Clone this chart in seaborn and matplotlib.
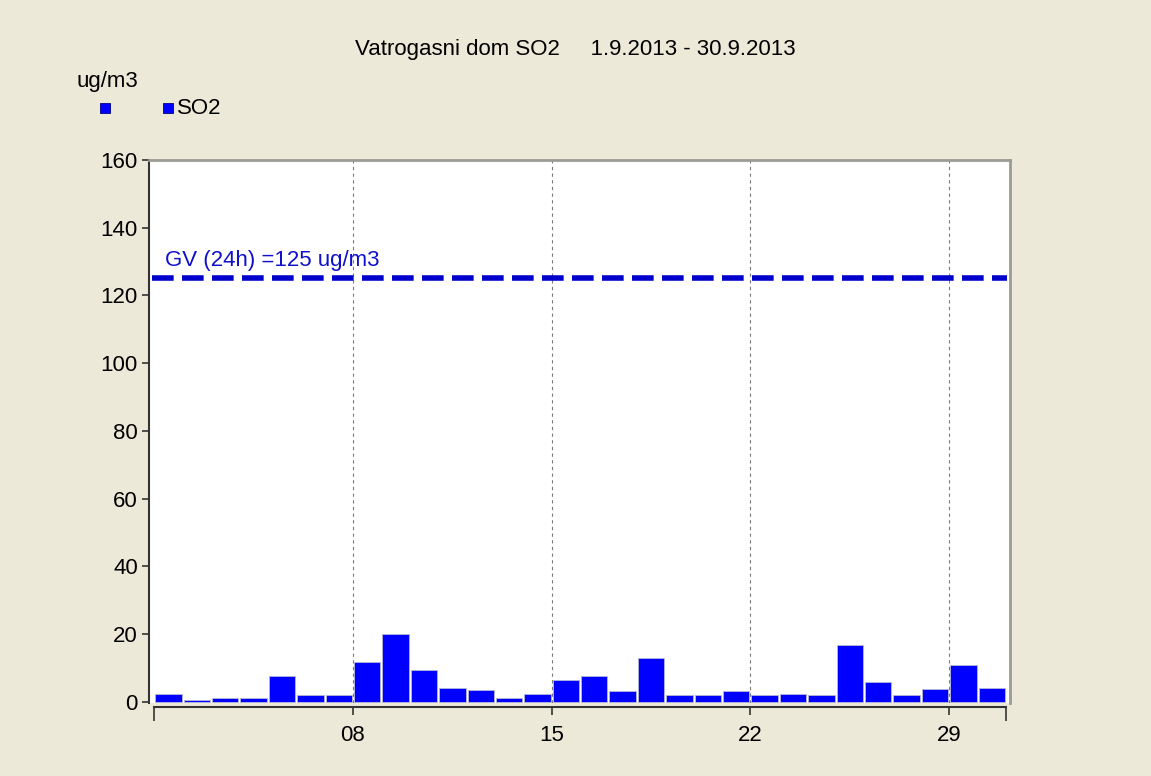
import seaborn as sns
import matplotlib.pyplot as plt
import pandas as pd
from matplotlib.patches import Rectangle

days = [f"{d:02d}" for d in range(1, 31)]
so2 = [2.4, 0.5, 1.0, 1.2, 7.7, 2.0, 2.0, 11.6, 20.1, 9.4,
       4.1, 3.3, 1.2, 2.4, 6.5, 7.7, 3.0, 13.0, 2.0, 2.0,
       3.0, 2.0, 2.4, 2.0, 16.8, 5.8, 2.0, 3.7, 10.7, 4.1]
tick_days = ["08", "15", "22", "29"]
yticks = [0, 20, 40, 60, 80, 100, 120, 140, 160]
limit_value = 125
limit_label = "GV (24h) =125 ug/m3"
title = "Vatrogasni dom SO2     1.9.2013 - 30.9.2013"

bg = "#ece9d8"
sns.set_style("white", {"text.color": "black", "xtick.color": "black",
                        "ytick.color": "black", "axes.labelcolor": "black"})
plt.rcParams["font.family"] = ["Liberation Sans", "DejaVu Sans"]

df = pd.DataFrame({"day": days, "SO2": so2})

fig = plt.figure(figsize=(11.51, 7.76), dpi=100, facecolor=bg)
ax = fig.add_axes([0.1295, 0.0941, 0.748, 0.6997])
ax.set_facecolor("white")

sns.barplot(data=df, x="day", y="SO2", order=days, color="#0000ff",
            saturation=1, width=0.93, edgecolor="#b8b8d8", linewidth=0.6, ax=ax)

# limit line
ax.axhline(limit_value, xmin=0.004, xmax=0.996, color="#0000cc", lw=4,
           dashes=(3.9, 1.5), dash_capstyle="butt")
ax.text(-0.12, limit_value + 2.3, limit_label, color="#1010cc", fontsize=16,
        va="bottom", ha="left")

# vertical dashed grid at week starts
tick_pos = [days.index(t) - 0.5 for t in tick_days]
for p in tick_pos:
    ax.axvline(p, color="#7a7a7a", lw=0.8, dashes=(3, 3), zorder=0)

ax.set_xlim(-0.68, 29.64)
ax.set_ylim(-0.4, 160)
ax.set_xticks(tick_pos)
ax.set_xticklabels(tick_days)
ax.set_xticks([-0.5, 29.5], minor=True)
ax.set_yticks(yticks)
ax.set_xlabel("")
ax.set_ylabel("")
ax.tick_params(axis="x", which="major", direction="out", length=6, width=1.2,
               color="#333333", labelcolor="black", labelsize=16, pad=7, bottom=True)
ax.tick_params(axis="x", which="minor", direction="out", length=10, width=1.2,
               color="#333333", bottom=True)
ax.tick_params(axis="y", direction="out", length=5, width=1.2,
               color="#333333", labelcolor="black", labelsize=16, pad=3, left=True)

for s in ["top", "right"]:
    ax.spines[s].set_color("#9c9b94")
    ax.spines[s].set_linewidth(2)
ax.spines["left"].set_color("#333333")
ax.spines["left"].set_linewidth(1.5)
ax.spines["bottom"].set_color("#333333")
ax.spines["bottom"].set_linewidth(1.5)
ax.spines["bottom"].set_position(("outward", 3))
ax.spines["bottom"].set_bounds(-0.5, 29.5)

fig.text(0.5, 1 - 50 / 776, title, ha="center", va="center", fontsize=16,
         color="black")
fig.text(76 / 1151, 1 - 82 / 776, "ug/m3", ha="left", va="center", fontsize=16,
         color="black")
for x0 in [100, 163]:
    fig.patches.append(Rectangle((x0 / 1151, 1 - 113 / 776), 10 / 1151, 10 / 776,
                                 transform=fig.transFigure, facecolor="#0000ff",
                                 edgecolor="#000080", lw=0.6))
fig.text(177 / 1151, 1 - 109 / 776, "SO2", ha="left", va="center", fontsize=16,
         color="black")

fig.savefig("out.png", dpi=100, facecolor=bg)
